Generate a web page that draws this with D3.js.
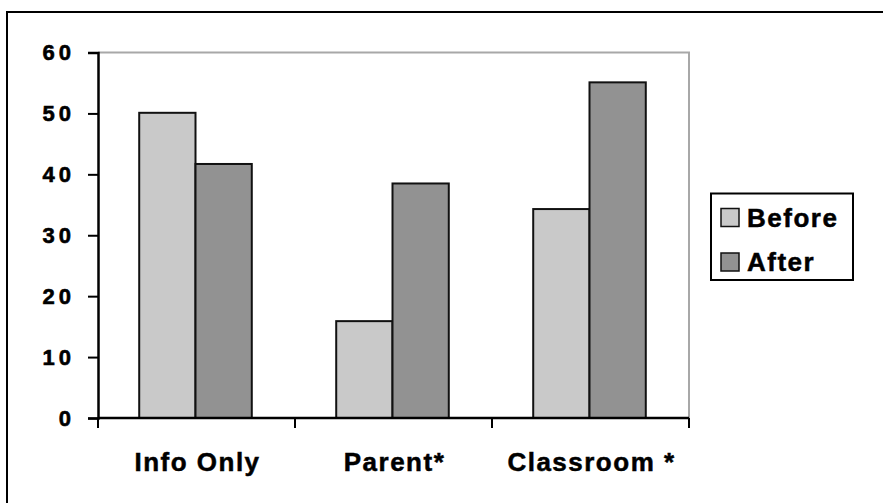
<!DOCTYPE html>
<html>
<head>
<meta charset="utf-8">
<script src="https://cdn.jsdelivr.net/npm/d3@7"></script>
<style>
  html, body { margin: 0; padding: 0; background: #fff; }
  svg { display: block; }
  text { font-family: "Liberation Sans", Arial, sans-serif; font-weight: bold; fill: #000; }
</style>
</head>
<body>
<svg id="chart" width="883" height="503"></svg>
<script>
// Categories, series and their values
const categories = ["Info Only", "Parent*", "Classroom *"];
const series = ["Before", "After"];
const beforeValues = [50.1, 15.9, 34.3];
const afterValues = [41.7, 38.5, 55.1];
const yTicks = [0, 10, 20, 30, 40, 50, 60];
const seriesColors = ["#c9c9c9", "#929292"];

const valuesBySeries = { Before: beforeValues, After: afterValues };

const svg = d3.select("#chart");

// Outer chart frame (left and top edges visible)
svg.append("rect")
  .attr("x", 7).attr("y", 12)
  .attr("width", 900).attr("height", 520)
  .attr("fill", "none").attr("stroke", "#000").attr("stroke-width", 2);

const plot = { left: 98, right: 689, top: 52.5, bottom: 418 };

const x = d3.scaleBand().domain(categories).range([plot.left, plot.right]).padding(0);
const xs = d3.scaleBand().domain(series).range([0, x.bandwidth()]).paddingInner(0).paddingOuter(0.75);
const y = d3.scaleLinear().domain([0, 60]).range([plot.bottom, plot.top]);

// Plot area border (top and right in grey)
svg.append("path")
  .attr("d", `M${plot.left},${plot.top}H${plot.right}V${plot.bottom}`)
  .attr("fill", "none").attr("stroke", "#a8a8a8").attr("stroke-width", 2);

// Bars
const groups = svg.append("g").selectAll("g")
  .data(categories).join("g")
  .attr("transform", d => `translate(${x(d)},0)`);

groups.selectAll("rect")
  .data((c, i) => series.map((s, j) => ({ s, j, v: valuesBySeries[s][i] })))
  .join("rect")
  .attr("x", d => xs(d.s) - 1)
  .attr("y", d => y(d.v))
  .attr("width", xs.bandwidth())
  .attr("height", d => y(0) - y(d.v))
  .attr("fill", d => seriesColors[d.j])
  .attr("stroke", "#111").attr("stroke-width", 2);

// Y axis
const yAxis = svg.append("g")
  .attr("transform", `translate(${plot.left},0)`)
  .call(d3.axisLeft(y).tickValues(yTicks).tickSize(10).tickPadding(13));
yAxis.select(".domain").attr("stroke", "#000").attr("stroke-width", 2.5);
yAxis.selectAll(".tick line").attr("stroke", "#000").attr("stroke-width", 2);
yAxis.selectAll(".tick text")
  .style("font-size", "22px").style("letter-spacing", "4px")
  .style("stroke", "#000").style("stroke-width", "0.6px")
  .attr("font-family", null).attr("font-size", null);

// X axis with ticks between categories
const xAxis = svg.append("g")
  .attr("transform", `translate(0,${plot.bottom})`);
xAxis.append("line")
  .attr("x1", plot.left).attr("x2", plot.right)
  .attr("stroke", "#000").attr("stroke-width", 2.5);
const boundaries = categories.map(c => x(c)).concat([x(categories[categories.length - 1]) + x.bandwidth()]);
xAxis.selectAll(".bt").data(boundaries).join("line")
  .attr("x1", d => d).attr("x2", d => d)
  .attr("y1", 0).attr("y2", 10)
  .attr("stroke", "#000").attr("stroke-width", 2);
xAxis.selectAll(".cl").data(categories).join("text")
  .attr("x", d => x(d) + x.bandwidth() / 2 + 1)
  .attr("y", 53)
  .attr("text-anchor", "middle")
  .style("font-size", "26px").style("letter-spacing", "1.5px")
  .style("stroke", "#000").style("stroke-width", "0.5px")
  .text(d => d);

// Legend
const legend = svg.append("g").attr("transform", "translate(711,193.5)");
legend.append("rect")
  .attr("width", 142).attr("height", 86.5)
  .attr("fill", "#fff").attr("stroke", "#000").attr("stroke-width", 2);
const items = legend.selectAll(".item").data(series).join("g")
  .attr("transform", (d, i) => `translate(10,${15 + i * 44.5})`);
items.append("rect")
  .attr("width", 18).attr("height", 18)
  .attr("fill", (d, i) => seriesColors[i])
  .attr("stroke", "#111").attr("stroke-width", 1.5);
items.append("text")
  .attr("x", 26).attr("y", 18)
  .style("font-size", "26px").style("letter-spacing", "1.5px")
  .style("stroke", "#000").style("stroke-width", "0.5px")
  .text(d => d);
</script>
</body>
</html>
